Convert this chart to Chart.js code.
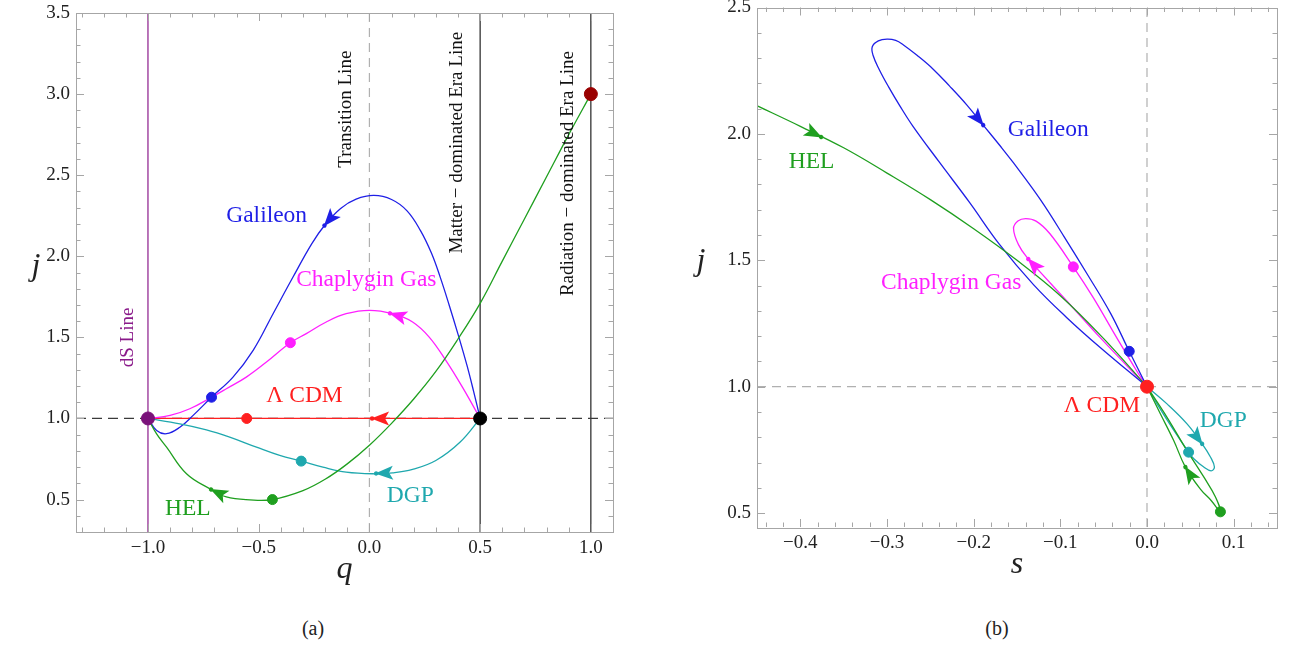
<!DOCTYPE html>
<html>
<head>
<title>Statefinder trajectories</title>
<script src="https://cdn.jsdelivr.net/npm/chart.js"></script>
<style>
  body { margin: 0; background: #fff; width: 1292px; height: 652px; position: relative; overflow: hidden; font-family: "Liberation Serif", serif; }
  canvas { position: absolute; top: 0; }
  .cap { position: absolute; top: 617px; width: 60px; text-align: center; font-size: 20px; color: #222; }
</style>
</head>
<body>
<canvas id="qj" width="650" height="600" style="left:0"></canvas>
<canvas id="sj" width="642" height="600" style="left:650px"></canvas>
<div class="cap" style="left:283px">(a)</div>
<div class="cap" style="left:967px">(b)</div>

<script>
// ---------------- data ----------------
// tick labels
const qTicks = [-1.0, -0.5, 0.0, 0.5, 1.0];
const jTicksA = [0.5, 1.0, 1.5, 2.0, 2.5, 3.0, 3.5];
const sTicks = [-0.4, -0.3, -0.2, -0.1, 0.0, 0.1];
const jTicksB = [0.5, 1.0, 1.5, 2.0, 2.5];

// reference lines in the {q, j} plane
const dsQ = -1.0, transitionQ = 0.0, matterQ = 0.5, radiationQ = 1.0, lcdmJ = 1.0;

// panel (a): {q, j} trajectories
const galileonQJ = [[0.5,1.0],[0.47,1.17],[0.44,1.33],[0.40,1.52],[0.36,1.70],[0.32,1.87],[0.28,2.02],[0.23,2.16],[0.17,2.28],
  [0.1,2.35],[0.02,2.375],[-0.06,2.352],[-0.13,2.295],[-0.203,2.19],[-0.26,2.078],[-0.345,1.872],[-0.435,1.646],[-0.525,1.42],
  [-0.616,1.255],[-0.713,1.131],[-0.796,1.019],[-0.856,0.946],[-0.916,0.906],[-0.961,0.926],[-1.0,1.0]];
const chaplyginQJ = [[0.5,1.0],[0.42,1.193],[0.345,1.358],[0.27,1.502],[0.195,1.595],[0.105,1.646],[0.0,1.667],[-0.105,1.646],
  [-0.195,1.595],[-0.285,1.523],[-0.357,1.467],[-0.465,1.348],[-0.556,1.255],[-0.646,1.183],[-0.713,1.131],[-0.811,1.06],
  [-0.9,1.019],[-1.0,1.0]];
const lcdmQJ = [[0.5,1.0],[-1.0,1.0]];
const dgpQJ = [[0.5,1.0],[0.41,0.855],[0.3,0.741],[0.195,0.686],[0.105,0.665],[0.015,0.659],[-0.105,0.669],[-0.21,0.7],
  [-0.308,0.737],[-0.405,0.772],[-0.51,0.823],[-0.631,0.885],[-0.736,0.93],[-0.856,0.967],[-1.0,1.0]];
const helQJ = [[1.0,3.0],[0.9,2.75],[0.8,2.49],[0.7,2.23],[0.6,1.97],[0.5,1.71],[0.4,1.49],[0.3,1.29],[0.2,1.12],[0.1,0.97],
  [0.0,0.835],[-0.1,0.72],[-0.2,0.625],[-0.3,0.555],[-0.438,0.5],[-0.54,0.498],[-0.646,0.516],[-0.72,0.566],[-0.826,0.659],
  [-0.916,0.823],[-0.961,0.905],[-1.0,1.0]];

// panel (a): fixed points and present-day markers
const dsPointQJ = [[-1.0,1.0]];
const matterPointQJ = [[0.5,1.0]];
const radiationPointQJ = [[1.0,3.0]];
const galileonNowQJ = [[-0.713,1.131]];
const chaplyginNowQJ = [[-0.357,1.467]];
const lcdmNowQJ = [[-0.554,1.0]];
const dgpNowQJ = [[-0.308,0.737]];
const helNowQJ = [[-0.438,0.5]];

// panel (b): {s, j} trajectories
const galileonSJ = [[0,1],[-0.054,1.155],[-0.0925,1.273],[-0.131,1.404],[-0.17,1.562],[-0.205,1.73],[-0.24,1.89],[-0.27,2.03],
  [-0.285,2.11],[-0.298,2.185],[-0.309,2.255],[-0.316,2.31],[-0.317,2.345],[-0.31,2.368],[-0.3,2.375],[-0.29,2.37],
  [-0.281,2.352],[-0.265,2.31],[-0.247,2.257],[-0.228,2.19],[-0.208,2.115],[-0.189,2.035],[-0.17,1.955],[-0.154,1.885],
  [-0.123,1.74],[-0.095,1.59],[-0.068,1.44],[-0.042,1.29],[-0.0205,1.14],[0,1]];
const chaplyginSJ = [[0,1],[-0.054,1.194],[-0.0925,1.339],[-0.125,1.46],[-0.137,1.505],[-0.148,1.56],[-0.154,1.625],
  [-0.149,1.655],[-0.14,1.665],[-0.128,1.655],[-0.112,1.605],[-0.085,1.474],[-0.062,1.352],[-0.035,1.194],[-0.012,1.063],[0,1]];
const helSJ = [[-0.451,2.113],[-0.4,2.03],[-0.35,1.945],[-0.3,1.845],[-0.25,1.74],[-0.2,1.625],[-0.15,1.50],[-0.1,1.36],
  [-0.05,1.19],[0,1]];
const helLoopSJ = [[0,1],[0.0231,0.879],[0.046,0.748],[0.0655,0.643],[0.079,0.564],[0.0847,0.505],[0.074,0.55],[0.0616,0.595],
  [0.0443,0.682],[0.0308,0.787],[0.0154,0.893],[0,1]];
const dgpSJ = [[0,1],[0.0231,0.932],[0.0462,0.853],[0.0636,0.774],[0.0732,0.722],[0.0778,0.682],[0.074,0.667],[0.0655,0.682],
  [0.054,0.715],[0.048,0.741],[0.031,0.827],[0.0116,0.932],[0,1]];

// panel (b): markers
const lcdmPointSJ = [[0,1]];
const galileonNowSJ = [[-0.0205,1.14]];
const chaplyginNowSJ = [[-0.085,1.474]];
const dgpNowSJ = [[0.048,0.741]];
const helNowSJ = [[0.0847,0.505]];

// ---------------- styling ----------------
const BLUE = '#1f1fe6', MAGENTA = '#ff1fff', RED = '#ff2020', TEAL = '#1fa8ae', GREEN = '#1f9f1f',
      PURPLE = '#8a1a8a', DARKRED = '#990000';
const SERIF = '"Liberation Serif", "DejaVu Serif", serif';
Chart.defaults.font.family = SERIF;
Chart.defaults.color = '#222';

const pts = a => a.map(p => ({ x: p[0], y: p[1] }));
const curve = (d, c) => ({ data: pts(d), showLine: true, borderColor: c, borderWidth: 1.3, pointRadius: 0, tension: 0.4, order: 5 });
const dots = (d, c, r) => ({ data: pts(d), showLine: false, backgroundColor: c, borderColor: c, pointRadius: r, pointHoverRadius: r, order: 1 });
const refLine = (d, c, dash, w) => ({ data: pts(d), showLine: true, borderColor: c, borderWidth: w || 1.2, borderDash: dash || [], pointRadius: 0, tension: 0, order: 10 });
const fmt = v => (v < 0 ? '\u2212' : '') + Math.abs(v).toFixed(1);

// frame with inward ticks, free labels, arrowheads and axis titles
const decor = {
  id: 'decor',
  afterDatasetsDraw(chart, args, o) {
    const { ctx, scales: { x, y } } = chart;
    (o.arrows || []).forEach(a => {
      const tx = x.getPixelForValue(a.tip[0]), ty = y.getPixelForValue(a.tip[1]);
      const fx = x.getPixelForValue(a.from[0]), fy = y.getPixelForValue(a.from[1]);
      ctx.save();
      ctx.translate(tx, ty);
      ctx.rotate(Math.atan2(ty - fy, tx - fx));
      ctx.fillStyle = a.c;
      ctx.beginPath();
      ctx.moveTo(1, 0); ctx.lineTo(-17, -7); ctx.lineTo(-13, 0); ctx.lineTo(-17, 7);
      ctx.closePath(); ctx.fill();
      ctx.beginPath(); ctx.arc(0, 0, 2.2, 0, 2 * Math.PI); ctx.fill();
      ctx.restore();
    });
    (o.labels || []).forEach(l => {
      ctx.save();
      ctx.translate(x.getPixelForValue(l.x), y.getPixelForValue(l.y));
      if (l.rot) ctx.rotate(l.rot * Math.PI / 180);
      ctx.font = (l.size || 23.5) + 'px ' + SERIF;
      ctx.fillStyle = l.c || '#111';
      ctx.textAlign = 'center'; ctx.textBaseline = 'middle';
      ctx.fillText(l.t, 0, 0);
      ctx.restore();
    });
  },
  afterDraw(chart, args, o) {
    const { ctx, chartArea: a, scales: { x, y } } = chart;
    ctx.save();
    ctx.strokeStyle = '#a6a6a6';
    ctx.lineWidth = 1;
    ctx.strokeRect(Math.round(a.left) + 0.5, Math.round(a.top) + 0.5, Math.round(a.width), Math.round(a.height));
    const isMajor = (v, list) => list.some(t => Math.abs(t - v) < 1e-6);
    ctx.beginPath();
    for (let k = Math.ceil(x.min / o.xMinor - 1e-6); k * o.xMinor <= x.max + 1e-9; k++) {
      const v = k * o.xMinor, p = Math.round(x.getPixelForValue(v)) + 0.5, L = isMajor(v, o.xMajor) ? 8 : 4.5;
      ctx.moveTo(p, a.bottom); ctx.lineTo(p, a.bottom - L);
      ctx.moveTo(p, a.top); ctx.lineTo(p, a.top + L);
    }
    for (let k = Math.ceil(y.min / o.yMinor - 1e-6); k * o.yMinor <= y.max + 1e-9; k++) {
      const v = k * o.yMinor, p = Math.round(y.getPixelForValue(v)) + 0.5, L = isMajor(v, o.yMajor) ? 8 : 4.5;
      ctx.moveTo(a.left, p); ctx.lineTo(a.left + L, p);
      ctx.moveTo(a.right, p); ctx.lineTo(a.right - L, p);
    }
    ctx.stroke();
    ctx.fillStyle = '#222';
    ctx.font = 'italic 32px ' + SERIF;
    ctx.textAlign = 'center'; ctx.textBaseline = 'middle';
    ctx.fillText(o.xTitle, (a.left + a.right) / 2, a.bottom + o.xTitleDy);
    ctx.fillText('j', a.left - o.yTitleDx, (a.top + a.bottom) / 2 - 6);
    ctx.restore();
  }
};

function makeScales(xr, yr, xt, yt, yWidth, xHeight) {
  const common = {
    type: 'linear',
    grid: { display: false, drawTicks: false },
    border: { display: false },
  };
  return {
    x: Object.assign({}, common, {
      min: xr[0], max: xr[1],
      afterBuildTicks: s => { s.ticks = xt.map(v => ({ value: v })); },
      afterFit: s => { s.height = xHeight; s.paddingLeft = 0; s.paddingRight = 0; },
      ticks: { padding: 5, autoSkip: false, maxRotation: 0, font: { size: 19 }, callback: v => fmt(v) }
    }),
    y: Object.assign({}, common, {
      min: yr[0], max: yr[1],
      afterBuildTicks: s => { s.ticks = yt.map(v => ({ value: v })); },
      afterFit: s => { s.width = yWidth; s.paddingTop = 0; s.paddingBottom = 0; },
      ticks: { padding: 6, autoSkip: false, font: { size: 19 }, callback: v => fmt(v) }
    })
  };
}

// ---------------- panel (a) ----------------
const qMin = -1.325, qMax = 1.1, jMinA = 0.3, jMaxA = 3.5;
new Chart(document.getElementById('qj'), {
  type: 'scatter',
  data: {
    datasets: [
      refLine([[qMin, lcdmJ], [qMax, lcdmJ]], '#3a3a3a', [10, 6]),
      refLine([[transitionQ, jMinA], [transitionQ, jMaxA]], '#b0b0b0', [9, 6]),
      refLine([[dsQ, jMinA], [dsQ, jMaxA]], PURPLE),
      refLine([[matterQ, jMinA], [matterQ, jMaxA]], '#222'),
      refLine([[radiationQ, jMinA], [radiationQ, jMaxA]], '#222'),
      curve(helQJ, GREEN),
      curve(dgpQJ, TEAL),
      curve(galileonQJ, BLUE),
      curve(chaplyginQJ, MAGENTA),
      curve(lcdmQJ, RED),
      dots(lcdmNowQJ, RED, 5),
      dots(galileonNowQJ, BLUE, 5),
      dots(chaplyginNowQJ, MAGENTA, 5),
      dots(dgpNowQJ, TEAL, 5),
      dots(helNowQJ, GREEN, 5),
      dots(dsPointQJ, '#7a127a', 6.5),
      dots(matterPointQJ, '#000', 6.5),
      dots(radiationPointQJ, DARKRED, 6.5)
    ]
  },
  options: {
    responsive: false, animation: false, devicePixelRatio: 1,
    layout: { padding: { left: 0, top: 13, right: 37, bottom: 0 } },
    scales: makeScales([qMin, qMax], [jMinA, jMaxA], qTicks, jTicksA, 76, 68),
    plugins: {
      legend: { display: false }, tooltip: { enabled: false },
      decor: {
        xMinor: 0.1, yMinor: 0.1, xMajor: qTicks, yMajor: jTicksA,
        xTitle: 'q', xTitleDy: 38, yTitleDx: 40,
        arrows: [
          { tip: [-0.203, 2.19], from: [-0.15, 2.275], c: BLUE },
          { tip: [0.093, 1.648], from: [0.15, 1.625], c: MAGENTA },
          { tip: [0.012, 1.0], from: [0.1, 1.0], c: RED },
          { tip: [0.03, 0.661], from: [0.11, 0.666], c: TEAL },
          { tip: [-0.715, 0.562], from: [-0.646, 0.516], c: GREEN }
        ],
        labels: [
          { t: 'Transition Line', x: -0.104, y: 2.907, size: 19, rot: -90 },
          { t: 'Matter \u2212 dominated Era Line', x: 0.396, y: 2.70, size: 19, rot: -90 },
          { t: 'Radiation \u2212 dominated Era Line', x: 0.896, y: 2.51, size: 19, rot: -90 },
          { t: 'dS Line', x: -1.09, y: 1.5, size: 19, rot: -90, c: PURPLE },
          { t: 'Galileon', x: -0.464, y: 2.247, c: BLUE },
          { t: 'Chaplygin Gas', x: -0.014, y: 1.852, c: MAGENTA },
          { t: '\u039B CDM', x: -0.293, y: 1.142, c: RED },
          { t: 'DGP', x: 0.185, y: 0.525, c: TEAL },
          { t: 'HEL', x: -0.82, y: 0.444, c: GREEN }
        ]
      }
    }
  },
  plugins: [decor]
});

// ---------------- panel (b) ----------------
const sMin = -0.45, sMax = 0.15, jMinB = 0.445, jMaxB = 2.5;
new Chart(document.getElementById('sj'), {
  type: 'scatter',
  data: {
    datasets: [
      refLine([[sMin, lcdmJ], [sMax, lcdmJ]], '#b0b0b0', [9, 6]),
      refLine([[0, jMinB], [0, jMaxB]], '#b0b0b0', [9, 6]),
      curve(helSJ, GREEN),
      curve(helLoopSJ, GREEN),
      curve(dgpSJ, TEAL),
      curve(galileonSJ, BLUE),
      curve(chaplyginSJ, MAGENTA),
      dots(galileonNowSJ, BLUE, 5),
      dots(chaplyginNowSJ, MAGENTA, 5),
      dots(dgpNowSJ, TEAL, 5),
      dots(helNowSJ, GREEN, 5),
      dots(lcdmPointSJ, RED, 6.5)
    ]
  },
  options: {
    responsive: false, animation: false, devicePixelRatio: 1,
    layout: { padding: { left: 0, top: 5, right: 15, bottom: 0 } },
    scales: makeScales([sMin, sMax], [jMinB, jMaxB], sTicks, jTicksB, 107, 73),
    plugins: {
      legend: { display: false }, tooltip: { enabled: false },
      decor: {
        xMinor: 0.02, yMinor: 0.1, xMajor: sTicks, yMajor: jTicksB,
        xTitle: 's', xTitleDy: 38, yTitleDx: 56,
        arrows: [
          { tip: [-0.189, 2.035], from: [-0.208, 2.115], c: BLUE },
          { tip: [-0.376, 1.988], from: [-0.4, 2.03], c: GREEN },
          { tip: [-0.137, 1.505], from: [-0.125, 1.46], c: MAGENTA },
          { tip: [0.0636, 0.774], from: [0.0462, 0.853], c: TEAL },
          { tip: [0.0443, 0.682], from: [0.052, 0.64], c: GREEN }
        ],
        labels: [
          { t: 'Galileon', x: -0.114, y: 2.016, c: BLUE },
          { t: 'HEL', x: -0.387, y: 1.89, c: GREEN },
          { t: 'Chaplygin Gas', x: -0.226, y: 1.41, c: MAGENTA },
          { t: '\u039B CDM', x: -0.052, y: 0.925, c: RED },
          { t: 'DGP', x: 0.088, y: 0.866, c: TEAL }
        ]
      }
    }
  },
  plugins: [decor]
});
</script>
</body>
</html>
